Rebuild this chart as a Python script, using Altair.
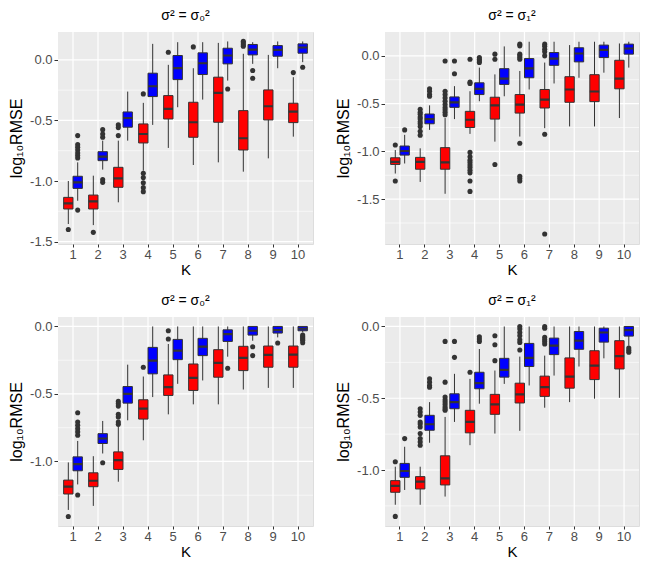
import altair as alt
import pandas as pd

K = list(range(1, 11))
SERIES = ["A", "B"]
COLORS = ["#FF0000", "#0000FF"]
TITLES = ["σ² = σ₀²", "σ² = σ₁²"]

# ---------- Panel 1 (top-left, sigma0) ----------
P1_A = dict(
    lo=[-1.355, -1.364, -1.176, -0.915, -0.727, -0.868, -0.846, -0.923, -0.813, -0.634],
    q1=[-1.231, -1.231, -1.052, -0.686, -0.488, -0.639, -0.515, -0.744, -0.496, -0.518],
    med=[-1.185, -1.168, -0.978, -0.612, -0.405, -0.515, -0.273, -0.647, -0.383, -0.427],
    q3=[-1.135, -1.116, -0.887, -0.529, -0.295, -0.350, -0.143, -0.419, -0.248, -0.358],
    hi=[-1.000, -0.956, -0.667, -0.355, -0.041, -0.069, 0.140, 0.050, 0.041, -0.143],
)
P1_B = dict(
    lo=[-1.163, -0.906, -0.667, -0.537, -0.391, -0.328, -0.171, -0.033, -0.069, -0.019],
    q1=[-1.061, -0.832, -0.556, -0.303, -0.163, -0.121, -0.033, 0.041, 0.030, 0.055],
    med=[-1.011, -0.799, -0.480, -0.218, -0.069, -0.028, 0.036, 0.085, 0.083, 0.102],
    q3=[-0.961, -0.758, -0.430, -0.110, 0.036, 0.058, 0.096, 0.127, 0.118, 0.132],
    hi=[-0.846, -0.667, -0.262, 0.132, 0.146, 0.146, 0.152, 0.146, 0.152, 0.152],
)
P1_A_OUT = {1: [-1.40], 2: [-1.424], 3: [-0.537, -0.559, -0.625],
            4: [-0.281, -0.937, -0.972, -1.014, -1.055, -1.088], 5: [0.063],
            6: [0.107], 8: [0.154, 0.140, 0.124, 0.113], 10: [-0.105]}
P1_B_OUT = {1: [-0.625, -0.700, -0.722, -0.744, -0.769, -0.790, -0.810, -1.240],
            2: [-0.576, -0.612, -0.639, -0.989, -1.011], 7: [-0.240],
            8: [-0.088, -0.152], 10: [-0.061]}

# ---------- Panel 2 (top-right, sigma1) ----------
P2_A = dict(
    lo=[-1.232, -1.320, -1.444, -0.817, -0.898, -0.845, -0.757, -0.739, -0.739, -0.651],
    q1=[-1.137, -1.187, -1.187, -0.750, -0.662, -0.599, -0.546, -0.486, -0.479, -0.345],
    med=[-1.109, -1.109, -1.116, -0.669, -0.518, -0.511, -0.458, -0.352, -0.373, -0.239],
    q3=[-1.067, -1.063, -0.961, -0.581, -0.433, -0.405, -0.352, -0.218, -0.197, -0.046],
    hi=[-0.986, -0.968, -0.651, -0.370, -0.194, -0.158, -0.070, 0.113, 0.148, 0.130],
)
P2_B = dict(
    lo=[-1.127, -0.775, -0.662, -0.475, -0.423, -0.352, -0.289, -0.229, -0.176, -0.123],
    q1=[-1.039, -0.711, -0.539, -0.405, -0.299, -0.229, -0.099, -0.063, -0.018, 0.018],
    med=[-0.996, -0.662, -0.486, -0.345, -0.239, -0.130, -0.028, 0.025, 0.063, 0.077],
    q3=[-0.944, -0.609, -0.430, -0.282, -0.134, -0.028, 0.035, 0.085, 0.113, 0.123],
    hi=[-0.827, -0.518, -0.317, -0.123, 0.099, 0.148, 0.148, 0.148, 0.148, 0.148],
)
P2_A_OUT = {1: [-0.933, -1.310],
            2: [-0.56, -0.59, -0.61, -0.64, -0.66, -0.69, -0.71, -0.74, -0.79, -0.83],
            3: [-0.053, -0.37, -0.405, -0.44, -0.475, -0.51, -0.54, -0.565, -0.59, -0.616],
            4: [-0.035, -0.275, -0.289, -1.011, -1.056, -1.092, -1.116, -1.144, -1.168,
                -1.197, -1.225, -1.31, -1.419],
            5: [0.018, -0.035, -1.137],
            6: [0.123, 0.105, 0.018, 0.0, -0.018, -0.035, -0.915, -1.261, -1.285, -1.31],
            7: [0.123, 0.10, 0.07, 0.042, 0.0, -0.82, -1.866]}
P2_B_OUT = {1: [-0.775], 2: [-0.345, -0.37, -0.405, -0.423], 3: [-0.053, -0.187],
            4: [-0.018, -0.035, -0.053, -0.07]}

# ---------- Panel 3 (bottom-left, sigma0) ----------
P3_A = dict(
    lo=[-1.359, -1.329, -1.150, -0.843, -0.651, -0.577, -0.577, -0.467, -0.455, -0.455],
    q1=[-1.241, -1.187, -1.059, -0.686, -0.511, -0.474, -0.376, -0.327, -0.302, -0.302],
    med=[-1.187, -1.143, -0.990, -0.609, -0.450, -0.381, -0.270, -0.233, -0.211, -0.209],
    q3=[-1.138, -1.084, -0.929, -0.543, -0.359, -0.278, -0.172, -0.147, -0.145, -0.145],
    hi=[-1.007, -0.961, -0.744, -0.371, -0.130, 0.0, 0.0, 0.0, 0.0, 0.0],
)
P3_B = dict(
    lo=[-1.170, -0.941, -0.695, -0.523, -0.425, -0.400, -0.224, -0.106, -0.081, -0.044],
    q1=[-1.069, -0.867, -0.568, -0.351, -0.246, -0.216, -0.111, -0.064, -0.049, -0.032],
    med=[-1.020, -0.830, -0.499, -0.253, -0.179, -0.150, -0.057, -0.032, -0.027, -0.017],
    q3=[-0.966, -0.794, -0.445, -0.155, -0.096, -0.088, -0.025, 0.0, 0.0, 0.0],
    hi=[-0.848, -0.700, -0.283, 0.0, 0.0, 0.0, 0.0, 0.0, 0.0, 0.0],
)
P3_A_OUT = {1: [-1.408], 3: [-0.555, -0.572, -0.59, -0.651, -0.67, -0.708, -0.725],
            4: [-0.302], 5: [-0.032, -0.093]}
P3_B_OUT = {1: [-0.639, -0.708, -0.732, -0.757, -0.781, -0.806, -1.248], 2: [-1.01],
            7: [-0.31], 8: [-0.15, -0.216], 9: [-0.123],
            10: [-0.064, -0.074, -0.084, -0.093, -0.103, -0.12]}

# ---------- Panel 4 (bottom-right, sigma1) ----------
P4_A = dict(
    lo=[-1.242, -1.242, -1.185, -0.827, -0.746, -0.727, -0.566, -0.527, -0.503, -0.497],
    q1=[-1.155, -1.132, -1.104, -0.741, -0.612, -0.533, -0.487, -0.430, -0.370, -0.296],
    med=[-1.111, -1.081, -1.058, -0.665, -0.543, -0.473, -0.423, -0.349, -0.273, -0.206],
    q3=[-1.074, -1.046, -0.901, -0.584, -0.473, -0.395, -0.346, -0.219, -0.169, -0.099],
    hi=[-0.977, -0.977, -0.630, -0.365, -0.307, -0.210, -0.203, 0.0, 0.0, 0.0],
)
P4_B = dict(
    lo=[-1.139, -0.810, -0.665, -0.538, -0.400, -0.411, -0.342, -0.279, -0.222, -0.134],
    q1=[-1.051, -0.723, -0.573, -0.434, -0.353, -0.279, -0.196, -0.159, -0.109, -0.067],
    med=[-1.007, -0.681, -0.527, -0.395, -0.303, -0.219, -0.134, -0.099, -0.042, -0.025],
    q3=[-0.954, -0.619, -0.469, -0.319, -0.222, -0.118, -0.081, -0.035, -0.012, 0.0],
    hi=[-0.838, -0.527, -0.330, -0.157, 0.0, 0.0, 0.0, 0.0, 0.0, 0.0],
)
P4_A_OUT = {1: [-0.942, -1.323],
            2: [-0.573, -0.596, -0.619, -0.665, -0.68, -0.70, -0.746, -0.781, -0.804, -0.827],
            3: [-0.104, -0.388, -0.492, -0.51, -0.527, -0.543, -0.561, -0.573, -0.584],
            4: [-0.319], 5: [-0.065, -0.127, -0.238],
            6: [0.0, -0.018, -0.042, -0.065, -0.092, -0.111, -0.164],
            7: [0.0, -0.012, -0.076, -0.092, -0.106, -0.122]}
P4_B_OUT = {1: [-0.781], 2: [-0.365, -0.388, -0.411, -0.423], 3: [-0.104, -0.215],
            4: [-0.072, -0.088, -0.104], 10: [-0.15, -0.165, -0.18]}

# axis ranges / breaks
DOM = [[-1.52, 0.23], [-1.97, 0.25], [-1.478, 0.07], [-1.39, 0.066]]
MAJ = [[-1.5, -1.0, -0.5, 0.0], [-1.5, -1.0, -0.5, 0.0], [-1.0, -0.5, 0.0], [-1.0, -0.5, 0.0]]
MIN = [[-1.25, -0.75, -0.25], [-1.75, -1.25, -0.75, -0.25], [-1.25, -0.75, -0.25],
       [-1.25, -0.75, -0.25]]

FONT = "Liberation Sans"
PANEL_BG = "#EBEBEB"


def panel(sa, sb, oa, ob, dom, maj, mnr, title, w, h):
    rows = []
    for s, st in zip(SERIES, [sa, sb]):
        for i, k in enumerate(K):
            rows.append(dict(K=k, series=s, lo=st["lo"][i], q1=st["q1"][i],
                             med=st["med"][i], q3=st["q3"][i], hi=st["hi"][i]))
    df = pd.DataFrame(rows)
    orows = []
    for s, od in zip(SERIES, [oa, ob]):
        for k, vals in od.items():
            for v in vals:
                orows.append(dict(K=k, series=s, v=v))
    odf = pd.DataFrame(orows)
    mindf = pd.DataFrame({"g": mnr})
    majdf = pd.DataFrame({"g": maj})
    kdf = pd.DataFrame({"K": K})

    yscale = alt.Scale(domain=dom, nice=False, zero=False)
    xaxis = alt.Axis(title="K", labelAngle=0, bandPosition=0.5, grid=False,
                     domain=False, tickColor="#333333", tickSize=3, labelPadding=1,
                     labelColor="#4D4D4D", labelFontSize=13, labelFont=FONT,
                     titleFontSize=15, titleFontWeight="normal", titleFont=FONT,
                     titleColor="black", titlePadding=1)
    xs = alt.Scale(domain=K, paddingInner=0.25, paddingOuter=0.225)
    x = alt.X("K:O", scale=xs, axis=xaxis)
    xo = alt.XOffset("series:N", scale=alt.Scale(domain=SERIES, paddingInner=0, paddingOuter=0))
    yaxis = alt.Axis(title="log₁₀RMSE", values=maj,
                     labelExpr="(datum.value < 0 ? '-' : '') + format(abs(datum.value), '.1f')",
                     grid=False, domain=False,
                     tickColor="#333333", tickSize=4, labelPadding=2,
                     labelColor="#4D4D4D", labelFontSize=13, labelFont=FONT,
                     titleFontSize=16, titleFontWeight="normal", titleFont=FONT,
                     titleColor="black", titlePadding=5)
    color = alt.Color("series:N", scale=alt.Scale(domain=SERIES, range=COLORS), legend=None)

    bg = alt.Chart(kdf).mark_rect(color=PANEL_BG, opacity=1).encode(
        x=alt.value(0), x2=alt.value(w), y=alt.value(0), y2=alt.value(h))
    minor = alt.Chart(mindf).mark_rule(color="white", strokeWidth=0.6).encode(
        y=alt.Y("g:Q", scale=yscale, axis=yaxis))
    major = alt.Chart(majdf).mark_rule(color="white", strokeWidth=1.2).encode(
        y=alt.Y("g:Q", scale=yscale, axis=yaxis))
    vgrid = alt.Chart(kdf).mark_rule(color="white", strokeWidth=1.2).encode(x=x)
    whisk = alt.Chart(df).mark_rule(color="#333333", strokeWidth=1).encode(
        x=x, xOffset=xo, y=alt.Y("lo:Q", scale=yscale, axis=yaxis), y2="hi:Q")
    box = alt.Chart(df).mark_bar(stroke="#333333", strokeWidth=1).encode(
        x=x, xOffset=xo, y=alt.Y("q1:Q", scale=yscale, axis=yaxis), y2="q3:Q", color=color)
    med = alt.Chart(df).mark_bar(stroke="#333333", strokeWidth=2.2, fillOpacity=0).encode(
        x=x, xOffset=xo, y=alt.Y("med:Q", scale=yscale, axis=yaxis), y2="med:Q")
    pts = alt.Chart(odf).mark_circle(size=26, color="#333333", opacity=1).encode(
        x=x, xOffset=xo, y=alt.Y("v:Q", scale=yscale, axis=yaxis))
    return alt.layer(bg, minor, major, vgrid, whisk, box, med, pts).properties(
        width=w, height=h,
        title=alt.TitleParams(text=title, fontSize=14, fontWeight="normal", font=FONT,
                              color="black", anchor="middle", offset=8))


p1 = panel(P1_A, P1_B, P1_A_OUT, P1_B_OUT, DOM[0], MAJ[0], MIN[0], TITLES[0], 255, 212)
p2 = panel(P2_A, P2_B, P2_A_OUT, P2_B_OUT, DOM[1], MAJ[1], MIN[1], TITLES[1], 254, 212)
p3 = panel(P3_A, P3_B, P3_A_OUT, P3_B_OUT, DOM[2], MAJ[2], MIN[2], TITLES[0], 255, 209)
p4 = panel(P4_A, P4_B, P4_A_OUT, P4_B_OUT, DOM[3], MAJ[3], MIN[3], TITLES[1], 254, 209)

chart = alt.vconcat(
    alt.hconcat(p1, p2, spacing=20),
    alt.hconcat(p3, p4, spacing=20),
    spacing=15,
).properties(
    padding={"left": 0, "top": 0, "right": 0, "bottom": 0},
    background="white",
).configure_view(strokeWidth=0).configure(font=FONT).configure_title(
    fontWeight="normal")

chart.save("out.html", embed_options={"renderer": "svg", "actions": False})
